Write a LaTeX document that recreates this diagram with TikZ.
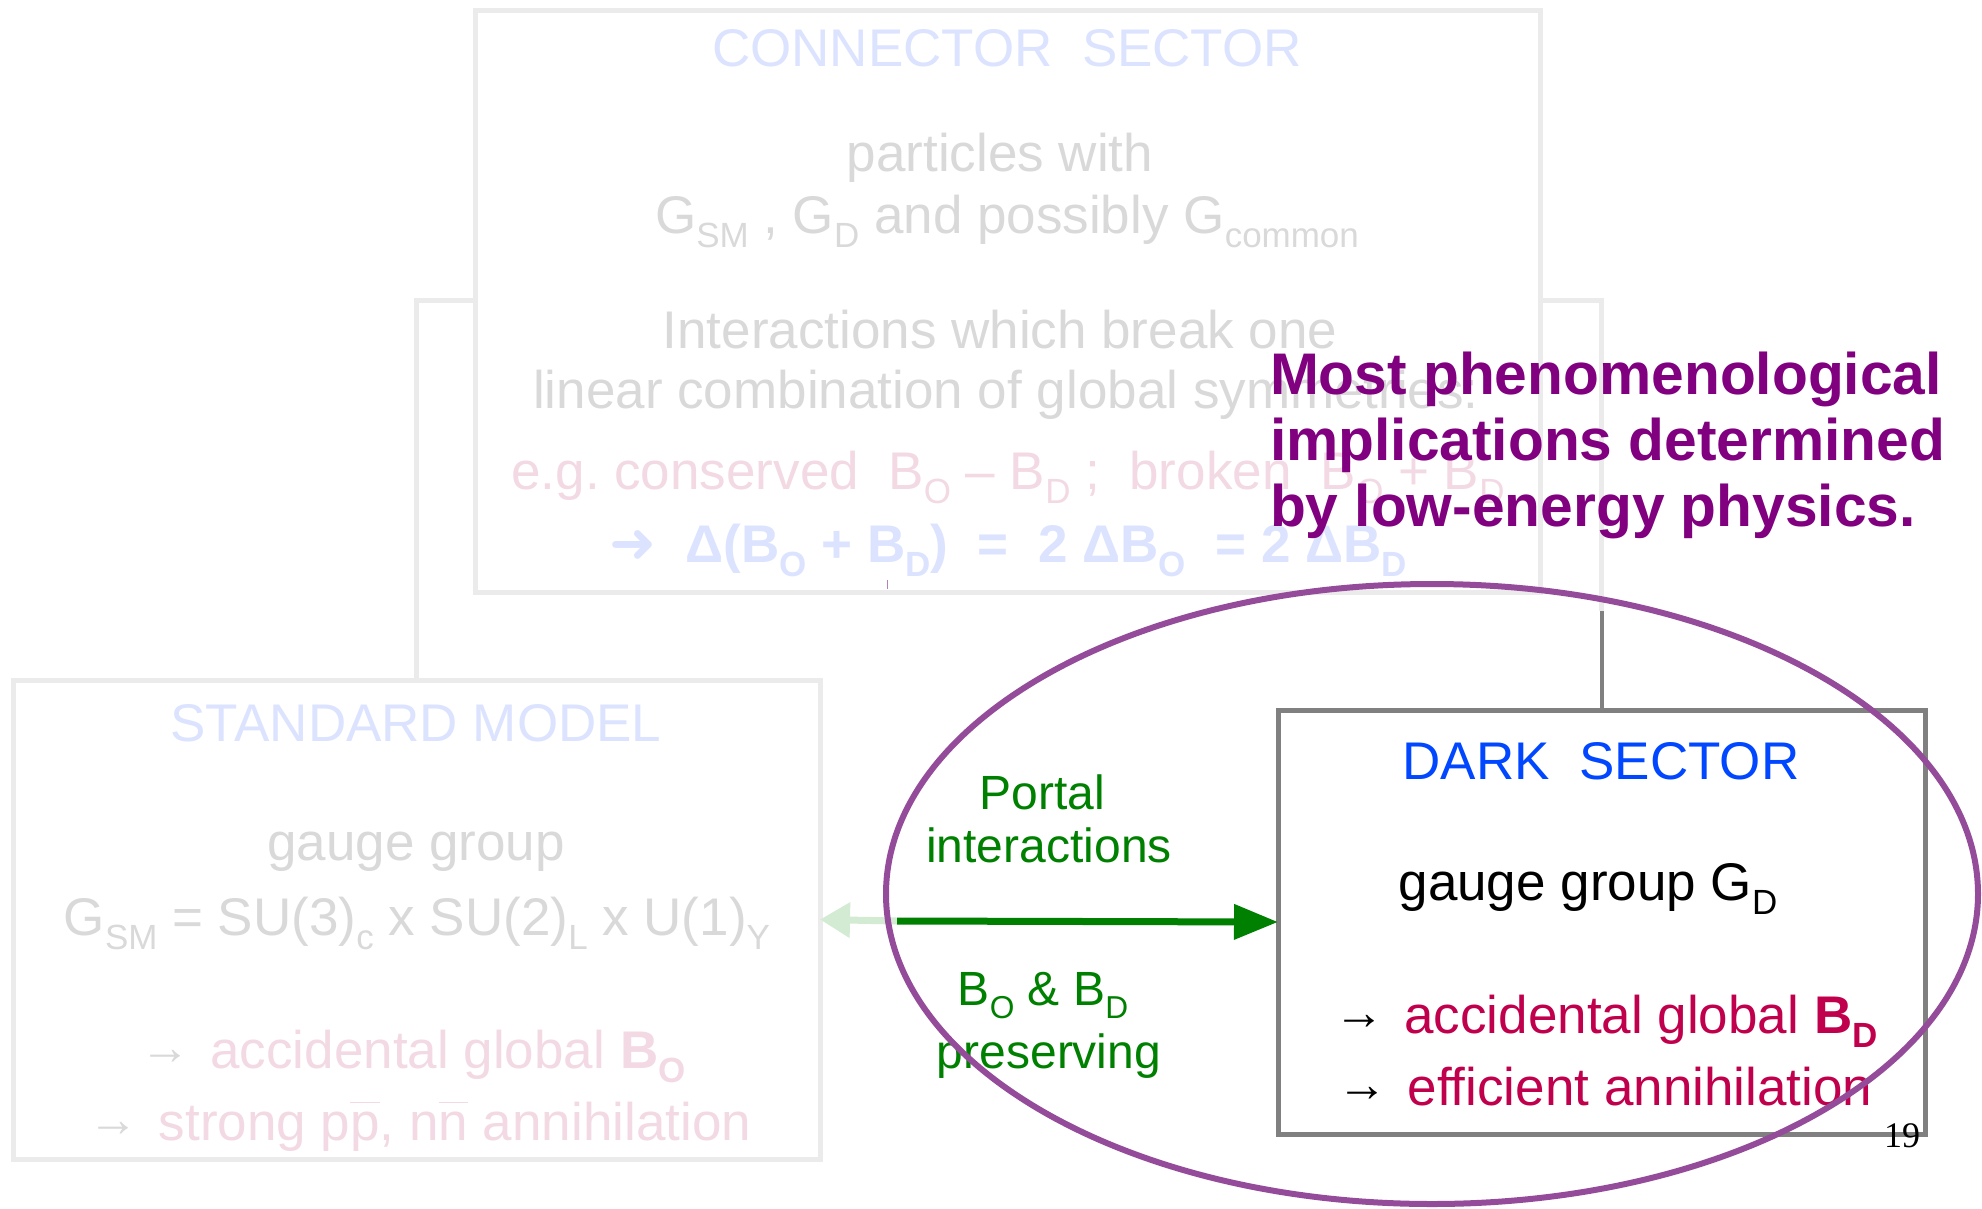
\documentclass[tikz,border=0pt]{standalone}
\usepackage{fontspec}
\setmainfont{Liberation Sans}
\newfontfamily\djv{DejaVu Sans}
\newfontfamily\pagefont{Liberation Serif}
\usepackage{graphicx}
\usetikzlibrary{arrows.meta,shapes.geometric}
\frenchspacing
\definecolor{fadegray}{HTML}{EBEBEB}
\definecolor{fadetext}{HTML}{D9D9D9}
\definecolor{fadeblue}{HTML}{DCE3FF}
\definecolor{fadepink}{HTML}{F3D9E3}
\definecolor{fadegreen}{HTML}{D3EBD3}
\definecolor{dsblue}{HTML}{0047FF}
\definecolor{crimson}{HTML}{C0004C}
\definecolor{portal}{HTML}{008000}
\definecolor{headline}{HTML}{800080}
\definecolor{ring}{HTML}{944C9A}
\definecolor{midgray}{HTML}{808080}
\newcommand\lo[1]{\raisebox{-0.28em}{\scalebox{0.66}{#1}}}
\newcommand\ovl[1]{\ensuremath{\overline{\hbox{\vphantom{A}#1}}}}
\newcommand\smallarr{\raisebox{4pt}{\fontsize{50}{52}\selectfont →}\hspace{20pt}}
\begin{document}
\begin{tikzpicture}[x=1pt,y=-1pt,
  every node/.style={inner sep=0pt, outer sep=0pt},
  txt/.style={font=\fontsize{53}{64}\selectfont, anchor=base},
  lbl/.style={font=\fontsize{48}{56}\selectfont, anchor=base, text=portal},
  head/.style={font=\fontsize{58.7}{66}\selectfont\bfseries, anchor=base west, text=headline},
  fadebox/.style={draw=fadegray, line width=5pt, fill=white, rectangle},
  darkbox/.style={draw=midgray, line width=5pt, fill=white, rectangle},
  fadeline/.style={draw=fadegray, line width=5pt},
  darkline/.style={draw=midgray, line width=4pt},
  portalarrow/.style={draw=portal, line width=7pt, -{Triangle[length=44pt,width=34pt]}},
  fadearrow/.style={draw=fadegreen, line width=7pt, -{Triangle[length=30pt,width=34pt]}}
]
\useasboundingbox (0,0) rectangle (1982,1208);
\fill[white] (0,0) rectangle (1982,1208);

% boxes
\node[fadebox, minimum width=807pt, minimum height=479pt] (sm) at (416.5,919.5) {};
\node[darkbox, minimum width=647pt, minimum height=424pt] (ds) at (1601.5,922) {};
\coordinate (jl) at (475,300);
\coordinate (jr) at (1540,300);
\coordinate (kink) at (1601.5,611);
\draw[fadeline] (sm.north) |- (jl);
\draw[fadeline] (jr) -| (kink);
\draw[darkline] (kink) -- (ds.north);
\node[fadebox, minimum width=1065pt, minimum height=582pt] (cs) at (1007.5,301) {};
\draw[ring!70, line width=1pt] (887,580) -- (887,589);

% connector sector text
\node[txt, text=fadeblue] (csT) at (1007,66) {CONNECTOR\ \ SECTOR};
\node[txt, text=fadetext] (cs1) at (1000,171) {particles with};
\node[txt, text=fadetext] (cs2) at (1007,233) {G\lo{SM} , G\lo{D} and possibly G\lo{common}};
\node[txt, text=fadetext] (cs3) at (1000,348) {Interactions which break one};
\node[txt, text=fadetext] (cs4) at (1006,408) {linear combination of global symmetries:};
\node[txt, text=fadepink] (cs5) at (1008,489) {e.g. conserved\ \ B\lo{O} – B\lo{D}\ ;\ \ broken\ \ B\lo{O} + B\lo{D}};
\node[txt, text=fadeblue, font=\fontsize{53}{64}\selectfont\bfseries] (cs6) at (1008,562) {{\djv\bfseries\fontsize{56}{64}\selectfont ➜}\ \ Δ(B\lo{O} + B\lo{D})\ \ =\ \ 2 ΔB\lo{O}\ \ = 2 ΔB\lo{D}};

% standard model text
\node[txt, text=fadeblue] (smT) at (416,741) {STANDARD MODEL};
\node[txt, text=fadetext] (sm1) at (416,860) {gauge group};
\node[txt, text=fadetext] (sm2) at (417,935) {G\lo{SM} = SU(3)\lo{c} x SU(2)\lo{L} x U(1)\lo{Y}};
\node[txt, text=fadepink] (sm3) at (413,1068) {\textcolor{fadetext}{\smallarr}accidental global \textbf{B\lo{O}}};
\node[txt, text=fadepink] (sm4) at (420,1140) {\textcolor{fadetext}{\smallarr}strong p\ovl{p}, n\ovl{n} annihilation};

% portal
\coordinate (pa) at (897,921);
\draw[fadearrow] (pa) -- (sm.east);
\draw[portalarrow] (pa) -- (ds.west);
\node[lbl] (p1) at (1042,809) {Portal};
\node[lbl] (p2) at (1049,862) {interactions};
\node[lbl] (p3) at (1043,1005) {B\lo{O} \& B\lo{D}};
\node[lbl] (p4) at (1049,1068) {preserving};

% dark sector text
\node[txt, text=dsblue] (dsT) at (1601,779) {DARK\ \ SECTOR};
\node[txt, text=black] (ds1) at (1588,900) {gauge group G\lo{D}};
\node[txt, text=crimson] (ds2) at (1606,1033) {\textcolor{black}{\smallarr}accidental global \textbf{B\lo{D}}};
\node[txt, text=crimson] (ds3) at (1605,1105) {\textcolor{black}{\smallarr}efficient annihilation};

\node[font=\pagefont\fontsize{36}{38}\selectfont, anchor=base] (pg) at (1902,1147) {19};

% headline
\node[head] (h1) at (1270,394) {Most phenomenological};
\node[head] (h2) at (1270,460) {implications determined};
\node[head] (h3) at (1270,526) {by low-energy physics.};

% ellipse
\node[draw=ring, line width=6pt, ellipse, minimum width=1092pt, minimum height=620pt] (ringnode) at (1432,894) {};
\end{tikzpicture}
\end{document}
